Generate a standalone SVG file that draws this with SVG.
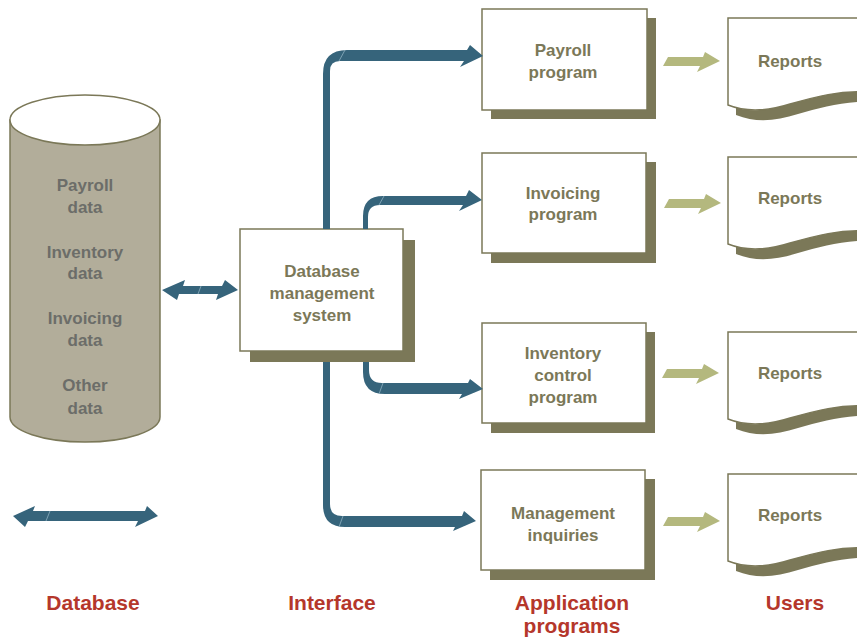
<svg xmlns="http://www.w3.org/2000/svg" width="857" height="638" viewBox="0 0 857 638">
<style>
.box{fill:#ffffff;stroke:#7b7858;stroke-width:1.5}
.shadow{fill:#7b7858}
.t{font-family:"Liberation Sans",Arial,sans-serif;font-weight:bold;font-size:17px;fill:#7b7858;text-anchor:middle}
.dt{font-family:"Liberation Sans",Arial,sans-serif;font-weight:bold;font-size:17px;fill:#6c6d69;text-anchor:middle}
.lbl{font-family:"Liberation Sans",Arial,sans-serif;font-weight:bold;font-size:21px;fill:#b5372b;text-anchor:middle}
.blue{fill:#36647b}
.fold{stroke:#8eb0c0;stroke-width:0.8}
.green{fill:#b4b87e}
</style>
<defs>
<path id="paper" d="M728,18 H870 V92 C840,90 815,97 790,104 C768,111 748,113 728,105 Z"/>
<polygon id="garrow" points="668,57 703,57 705,52 720,61 697,72 700,66 663,66"/>
</defs>
<rect width="857" height="638" fill="#ffffff"/>

<g id="database">
<path d="M10,120 V417 A75,25 0 0 0 160,417 V120 Z" fill="#b2ad9a" stroke="#7b7858" stroke-width="1.5"/>
<ellipse cx="85" cy="120" rx="75" ry="25" fill="#ffffff" stroke="#7b7858" stroke-width="1.5"/>
<text class="dt" x="85" y="191">Payroll</text>
<text class="dt" x="85" y="213">data</text>
<text class="dt" x="85" y="258">Inventory</text>
<text class="dt" x="85" y="279">data</text>
<text class="dt" x="85" y="324">Invoicing</text>
<text class="dt" x="85" y="346">data</text>
<text class="dt" x="85" y="391">Other</text>
<text class="dt" x="85" y="414">data</text>
</g>

<g id="dbms">
<rect class="shadow" x="250" y="240" width="165" height="122"/>
<rect class="box" x="240" y="229" width="163" height="122"/>
<text class="t" x="322" y="277">Database</text>
<text class="t" x="322" y="299">management</text>
<text class="t" x="322" y="321">system</text>
</g>

<g id="payroll">
<rect class="shadow" x="491" y="18" width="165" height="101"/>
<rect class="box" x="482" y="9" width="165" height="101"/>
<text class="t" x="563" y="56">Payroll</text>
<text class="t" x="563" y="78">program</text>
</g>

<g id="invoicing">
<rect class="shadow" x="491" y="162" width="165" height="101"/>
<rect class="box" x="482" y="153" width="164" height="100"/>
<text class="t" x="563" y="199">Invoicing</text>
<text class="t" x="563" y="220">program</text>
</g>

<g id="inventory">
<rect class="shadow" x="491" y="332" width="164" height="101"/>
<rect class="box" x="482" y="323" width="164" height="100"/>
<text class="t" x="563" y="359">Inventory</text>
<text class="t" x="563" y="381">control</text>
<text class="t" x="563" y="403">program</text>
</g>

<g id="management">
<rect class="shadow" x="490" y="479" width="165" height="101"/>
<rect class="box" x="481" y="470" width="164" height="100"/>
<text class="t" x="563" y="519">Management</text>
<text class="t" x="563" y="541">inquiries</text>
</g>

<g id="reports1">
<use href="#paper" transform="translate(8,10)" class="shadow"/>
<use href="#paper" class="box"/>
<text class="t" x="790" y="67">Reports</text>
</g>
<g id="reports2">
<use href="#paper" transform="translate(8,149)" class="shadow"/>
<use href="#paper" transform="translate(0,139)" class="box"/>
<text class="t" x="790" y="204">Reports</text>
</g>
<g id="reports3">
<use href="#paper" transform="translate(8,324)" class="shadow"/>
<use href="#paper" transform="translate(0,314)" class="box"/>
<text class="t" x="790" y="379">Reports</text>
</g>
<g id="reports4">
<use href="#paper" transform="translate(8,466)" class="shadow"/>
<use href="#paper" transform="translate(0,456)" class="box"/>
<text class="t" x="790" y="521">Reports</text>
</g>

<g id="connectors">
<path class="blue" d="M162,290 L185,280 L183,286 H222 L225,280 L238,290 L216,300 L218,294 H179 L177,300 Z"/>
<line class="fold" x1="201" y1="286" x2="198" y2="294"/>
<path class="blue" d="M323,229 V74 Q323,50 347,50 H467 L470,45 L483,56 L460,67 L464,61 H340 Q330,61 330,71 V229 Z"/>
<line class="fold" x1="345" y1="50" x2="339" y2="61"/>
<path class="blue" d="M363,229 V216 Q363,196 383,196 H466 L469,190 L482,200 L459,211 L463,205 H380 Q368,205 368,217 V229 Z"/>
<line class="fold" x1="384" y1="196" x2="379" y2="205"/>
<path class="blue" d="M363,362 V372 Q363,394 385,394 H462 L459,399 L483,389 L470,379 L468,383 H382 Q369,383 369,370 V362 Z"/>
<line class="fold" x1="383" y1="383" x2="379" y2="394"/>
<path class="blue" d="M323,362 V505 Q323,527 345,527 H455 L453,531 L476,521 L464,511 L462,516 H342 Q330,516 330,504 V362 Z"/>
<line class="fold" x1="343" y1="516" x2="339" y2="527"/>
<use href="#garrow" class="green"/>
<use href="#garrow" class="green" transform="translate(1,142)"/>
<use href="#garrow" class="green" transform="translate(-1,312)"/>
<use href="#garrow" class="green" transform="translate(0,460)"/>
</g>

<g id="legend">
<path class="blue" d="M13,516 L35,506 L33,511 H145 L147,506 L158,516 L135,527 L138,521 H28 L25,527 Z"/>
<line class="fold" x1="50" y1="511" x2="46" y2="521"/>
</g>

<g id="labels">
<text class="lbl" x="93" y="610">Database</text>
<text class="lbl" x="332" y="610">Interface</text>
<text class="lbl" x="572" y="610">Application</text>
<text class="lbl" x="572" y="633">programs</text>
<text class="lbl" x="795" y="610">Users</text>
</g>
</svg>
